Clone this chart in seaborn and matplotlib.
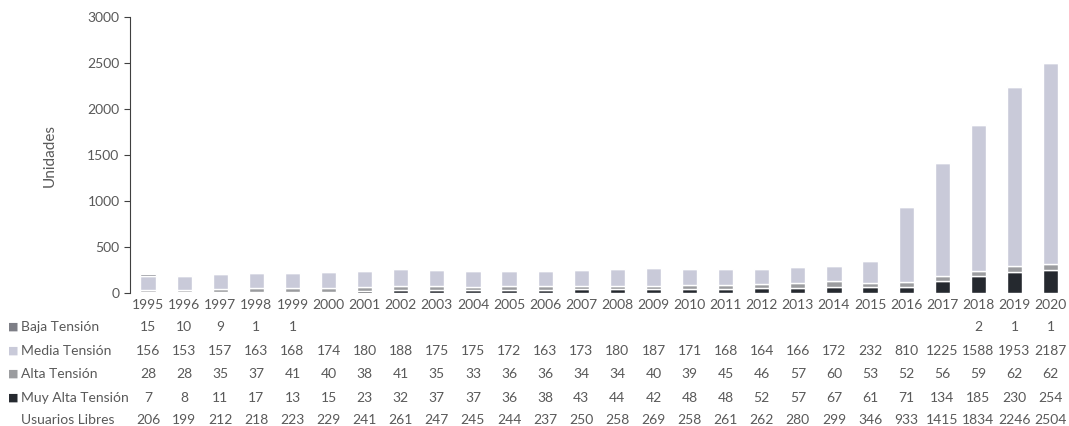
import matplotlib
matplotlib.use("Agg")
import matplotlib.pyplot as plt
import matplotlib.transforms as mtransforms
import seaborn as sns
import pandas as pd
import numpy as np

# datos por año
years = [str(y) for y in range(1995, 2021)]
baja = [15, 10, 9, 1, 1, 0, 0, 0, 0, 0, 0, 0, 0, 0, 0, 0, 0, 0, 0, 0, 0, 0, 0, 2, 1, 1]
media = [156, 153, 157, 163, 168, 174, 180, 188, 175, 175, 172, 163, 173, 180, 187,
         171, 168, 164, 166, 172, 232, 810, 1225, 1588, 1953, 2187]
alta = [28, 28, 35, 37, 41, 40, 38, 41, 35, 33, 36, 36, 34, 34, 40, 39, 45, 46, 57,
        60, 53, 52, 56, 59, 62, 62]
muy_alta = [7, 8, 11, 17, 13, 15, 23, 32, 37, 37, 36, 38, 43, 44, 42, 48, 48, 52, 57,
            67, 61, 71, 134, 185, 230, 254]
usuarios = [206, 199, 212, 218, 223, 229, 241, 261, 247, 245, 244, 237, 250, 258, 269,
            258, 261, 262, 280, 299, 346, 933, 1415, 1834, 2246, 2504]

df = pd.DataFrame({'year': years, 'Baja Tensión': baja, 'Media Tensión': media,
                   'Alta Tensión': alta, 'Muy Alta Tensión': muy_alta})

colors = {'Muy Alta Tensión': '#25292f', 'Alta Tensión': '#9b9c9f',
          'Media Tensión': '#c9cad9', 'Baja Tensión': '#7d7e86'}

sns.set_style('white')
plt.rcParams['font.family'] = ['Lato', 'DejaVu Sans']
txt = '#595959'

fig = plt.figure(figsize=(10.69, 4.26), dpi=100)
ax = fig.add_axes([0.1216, 0.312, 0.878, 0.648])

bottom = np.zeros(len(years))
for serie in ['Muy Alta Tensión', 'Alta Tensión', 'Media Tensión', 'Baja Tensión']:
    sns.barplot(data=df, x='year', y=serie, color=colors[serie], width=0.42,
                bottom=bottom, ax=ax, saturation=1)
    bottom = bottom + df[serie].values

ax.set_ylim(0, 3000)
ax.set_xlim(-0.5, len(years) - 0.5)
ax.set_yticks(range(0, 3001, 500))
ax.set_ylabel('Unidades', color=txt, fontsize=11, labelpad=22)
ax.set_xlabel('')
for s in ['top', 'right', 'bottom']:
    ax.spines[s].set_visible(False)
ax.spines['left'].set_color('#404040')
ax.tick_params(axis='y', colors=txt, labelsize=10, length=4, left=True, color='#404040')
ax.tick_params(axis='x', colors=txt, labelsize=10, length=0, pad=4)

# tabla de datos bajo el gráfico
trans = mtransforms.blended_transform_factory(ax.transData, fig.transFigure)
rows = [('Baja Tensión', baja, colors['Baja Tensión']),
        ('Media Tensión', media, colors['Media Tensión']),
        ('Alta Tensión', alta, colors['Alta Tensión']),
        ('Muy Alta Tensión', muy_alta, colors['Muy Alta Tensión']),
        ('Usuarios Libres', usuarios, None)]
row_y = [327, 351, 374, 398, 420]
for (name, vals, col), yp in zip(rows, row_y):
    yf = 1 - yp / 426
    if col is not None:
        fig.text(0.0075, yf, '\u25a0', color=col, fontsize=8, va='center', ha='left',
                 family='DejaVu Sans')
    fig.text(0.0195, yf, name, color=txt, fontsize=10, va='center', ha='left')
    for i, v in enumerate(vals):
        if name == 'Baja Tensión' and v == 0:
            continue
        ax.text(i, yf, str(v), transform=trans, color=txt, fontsize=10,
                va='center', ha='center')

fig.savefig('out.png', dpi=100)
